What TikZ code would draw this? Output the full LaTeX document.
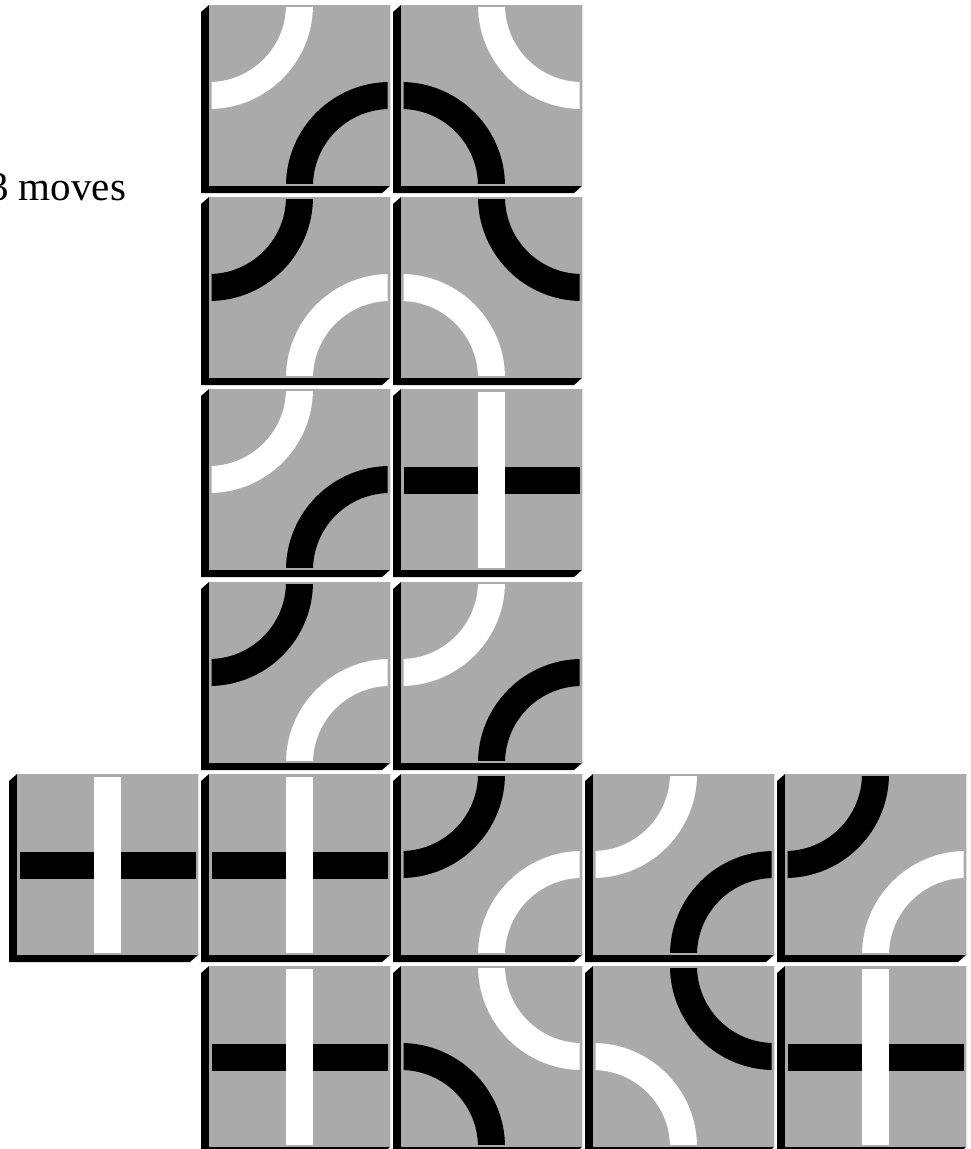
\documentclass[tikz,border=0pt]{standalone}
\usepackage{fontspec}
\setmainfont{Liberation Serif}
\definecolor{tilegray}{RGB}{170,170,170}
\tikzset{
  trackw/.style={draw=white,line width=27pt},
  trackb/.style={draw=black,line width=27pt},
  shadowfill/.style={fill=black},
  tilefill/.style={fill=tilegray},
}
\newcommand{\tbase}[2]{%
  \fill[shadowfill] (#1,#2) -- ++(181,0) -- ++(0,181) -- ++(-8,7) -- ++(-181,0) -- ++(0,-181) -- cycle;
  \fill[tilefill] (#1,#2) rectangle ++(181,181);
}
% x y  white-corner(dx,dy)  black-corner(dx,dy)
\newcommand{\tarc}[6]{%
  \tbase{#1}{#2}
  \begin{scope}
    \clip (#1+2.5,#2+2.5) rectangle (#1+178.5,#2+178.5);
    \draw[trackw] (#1+#3*181,#2+#4*181) circle[radius=90.5pt];
    \draw[trackb] (#1+#5*181,#2+#6*181) circle[radius=90.5pt];
  \end{scope}
}
\newcommand{\tcross}[2]{%
  \tbase{#1}{#2}
  \fill[black] (#1+2.5,#2+77.5) rectangle (#1+178.5,#2+104.5);
  \fill[white] (#1+77,#2+2.5) rectangle (#1+104,#2+178.5);
}
\begin{document}
\begin{tikzpicture}[x=1pt,y=-1pt]
\useasboundingbox (0,0) rectangle (971,1149);
\fill[white] (0,0) rectangle (971,1149);
\node[anchor=base west,inner sep=0pt,font=\fontsize{41}{44}\selectfont] (label) at (-12,200) {3 moves};
% row 0
\tarc{209}{5}{0}{0}{1}{1}
\tarc{401}{5}{1}{0}{0}{1}
% row 1
\tarc{209}{197}{1}{1}{0}{0}
\tarc{401}{197}{0}{1}{1}{0}
% row 2
\tarc{209}{389}{0}{0}{1}{1}
\tcross{401}{389}
% row 3
\tarc{209}{582}{1}{1}{0}{0}
\tarc{401}{582}{0}{0}{1}{1}
% row 4
\tcross{17}{774}
\tcross{209}{774}
\tarc{401}{774}{1}{1}{0}{0}
\tarc{593}{774}{0}{0}{1}{1}
\tarc{785}{774}{1}{1}{0}{0}
% row 5
\tcross{209}{966}
\tarc{401}{966}{1}{0}{0}{1}
\tarc{593}{966}{0}{1}{1}{0}
\tcross{785}{966}
\end{tikzpicture}
\end{document}
